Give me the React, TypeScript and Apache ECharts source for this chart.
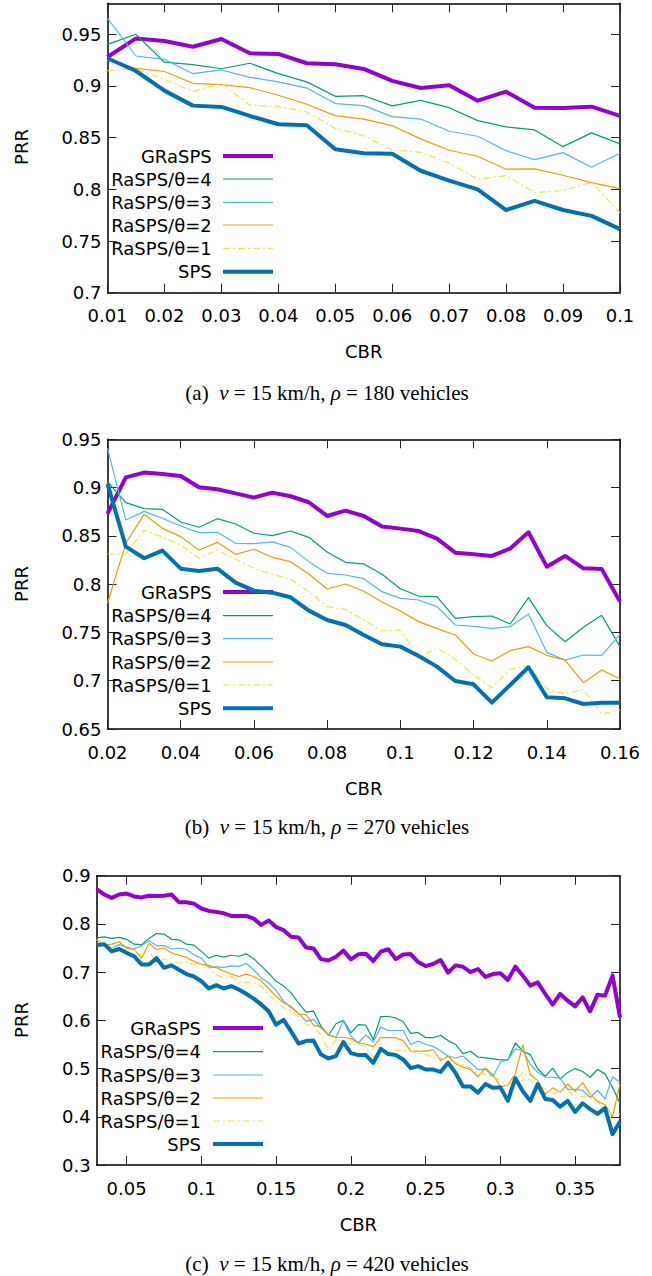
import React, { useEffect, useRef } from "react";
import * as echarts from "echarts";

// ---------- X values (CBR) ----------
const cbrA = [0.01, 0.015, 0.02, 0.025, 0.03, 0.035, 0.04, 0.045, 0.05, 0.055, 0.06, 0.065, 0.07, 0.075, 0.08, 0.085, 0.09, 0.095, 0.1];
const cbrB = [0.02, 0.025, 0.03, 0.035, 0.04, 0.045, 0.05, 0.055, 0.06, 0.065, 0.07, 0.075, 0.08, 0.085, 0.09, 0.095, 0.1, 0.105, 0.11, 0.115, 0.12, 0.125, 0.13, 0.135, 0.14, 0.145, 0.15, 0.155, 0.16];
const cbrC = [0.03, 0.035, 0.04, 0.045, 0.05, 0.055, 0.06, 0.065, 0.07, 0.075, 0.08, 0.085, 0.09, 0.095, 0.1, 0.105, 0.11, 0.115, 0.12, 0.125, 0.13, 0.135, 0.14, 0.145, 0.15, 0.155, 0.16, 0.165, 0.17, 0.175, 0.18, 0.185, 0.19, 0.195, 0.2, 0.205, 0.21, 0.215, 0.22, 0.225, 0.23, 0.235, 0.24, 0.245, 0.25, 0.255, 0.26, 0.265, 0.27, 0.275, 0.28, 0.285, 0.29, 0.295, 0.3, 0.305, 0.31, 0.315, 0.32, 0.325, 0.33, 0.335, 0.34, 0.345, 0.35, 0.355, 0.36, 0.365, 0.37, 0.375, 0.38];

// ---------- Tick values ----------
const xTicksA = [0.01, 0.02, 0.03, 0.04, 0.05, 0.06, 0.07, 0.08, 0.09, 0.1];
const yTicksA = [0.7, 0.75, 0.8, 0.85, 0.9, 0.95];
const xTicksB = [0.02, 0.04, 0.06, 0.08, 0.1, 0.12, 0.14, 0.16];
const yTicksB = [0.65, 0.7, 0.75, 0.8, 0.85, 0.9, 0.95];
const xTicksC = [0.05, 0.1, 0.15, 0.2, 0.25, 0.3, 0.35];
const yTicksC = [0.3, 0.4, 0.5, 0.6, 0.7, 0.8, 0.9];

// ---------- Series names ----------
const seriesNames = ["GRaSPS", "RaSPS/θ=4", "RaSPS/θ=3", "RaSPS/θ=2", "RaSPS/θ=1", "SPS"];

// ---------- (a) rho = 180 ----------
const graspsA = [0.928, 0.946, 0.9435, 0.938, 0.9455, 0.9316, 0.931, 0.922, 0.921, 0.9165, 0.905, 0.898, 0.9007, 0.8858, 0.8945, 0.879, 0.8787, 0.88, 0.871];
const t4A = [0.9403, 0.95, 0.923, 0.9206, 0.9167, 0.922, 0.912, 0.904, 0.89, 0.8906, 0.8807, 0.886, 0.879, 0.8665, 0.8604, 0.8575, 0.8413, 0.8546, 0.844];
const t3A = [0.9655, 0.929, 0.9258, 0.9119, 0.9155, 0.9084, 0.904, 0.898, 0.883, 0.881, 0.8703, 0.868, 0.8562, 0.8514, 0.8374, 0.8288, 0.8355, 0.8214, 0.835];
const t2A = [0.925, 0.917, 0.914, 0.9026, 0.9013, 0.8984, 0.891, 0.8823, 0.8713, 0.868, 0.8616, 0.8488, 0.8378, 0.832, 0.8195, 0.8198, 0.8136, 0.8065, 0.8007];
const t1A = [0.9148, 0.9165, 0.9065, 0.8945, 0.9026, 0.8816, 0.88, 0.8749, 0.859, 0.852, 0.838, 0.8359, 0.8253, 0.8098, 0.8133, 0.7968, 0.7988, 0.8068, 0.7772];
const spsA = [0.9268, 0.9145, 0.8955, 0.881, 0.8797, 0.871, 0.863, 0.862, 0.8388, 0.835, 0.8345, 0.818, 0.8085, 0.8, 0.78, 0.7888, 0.78, 0.7743, 0.7615];

// ---------- (b) rho = 270 ----------
const graspsB = [0.873, 0.9106, 0.9155, 0.914, 0.912, 0.9003, 0.8982, 0.894, 0.8896, 0.8948, 0.891, 0.8848, 0.8706, 0.8761, 0.8706, 0.8596, 0.8575, 0.855, 0.8471, 0.8326, 0.8309, 0.8292, 0.8368, 0.8537, 0.8181, 0.8292, 0.8164, 0.8157, 0.7819];
const t4B = [0.9062, 0.8844, 0.8782, 0.8775, 0.8644, 0.8589, 0.8678, 0.8623, 0.8527, 0.8502, 0.855, 0.8485, 0.8333, 0.8226, 0.8209, 0.8102, 0.7953, 0.7877, 0.787, 0.7646, 0.7663, 0.767, 0.7587, 0.786, 0.757, 0.7404, 0.7553, 0.7677, 0.7353];
const t3B = [0.9407, 0.8665, 0.8754, 0.8682, 0.8602, 0.8533, 0.8537, 0.8423, 0.8419, 0.8437, 0.8381, 0.8233, 0.8112, 0.8095, 0.8057, 0.7922, 0.7853, 0.7836, 0.7767, 0.7577, 0.7563, 0.7543, 0.756, 0.7691, 0.7294, 0.7214, 0.7266, 0.7263, 0.748];
const t2B = [0.7802, 0.8423, 0.8723, 0.8578, 0.8492, 0.8354, 0.8433, 0.8309, 0.8361, 0.8278, 0.8233, 0.8105, 0.795, 0.8002, 0.7926, 0.7815, 0.7722, 0.7612, 0.7539, 0.7474, 0.7277, 0.7204, 0.7311, 0.7353, 0.7263, 0.7214, 0.698, 0.7111, 0.7018];
const t1B = [0.8312, 0.8309, 0.8561, 0.8485, 0.8406, 0.8268, 0.8354, 0.8257, 0.8164, 0.8102, 0.805, 0.7922, 0.7767, 0.7739, 0.7629, 0.7515, 0.7525, 0.7249, 0.7335, 0.7222, 0.7059, 0.6928, 0.7118, 0.7156, 0.6921, 0.6862, 0.6911, 0.6655, 0.6697];
const spsB = [0.9038, 0.8388, 0.8268, 0.8347, 0.816, 0.8136, 0.816, 0.8016, 0.7933, 0.7912, 0.7864, 0.7726, 0.7629, 0.7577, 0.7474, 0.7377, 0.7353, 0.7256, 0.7146, 0.6997, 0.6963, 0.6773, 0.6956, 0.7139, 0.6828, 0.6818, 0.6759, 0.6773, 0.6773];

// ---------- (c) rho = 420 ----------
const graspsC = [0.872, 0.861, 0.854, 0.861, 0.863, 0.857, 0.855, 0.8585, 0.858, 0.8585, 0.861, 0.845, 0.845, 0.842, 0.832, 0.827, 0.825, 0.822, 0.8165, 0.8165, 0.8165, 0.811, 0.798, 0.807, 0.7935, 0.787, 0.7735, 0.772, 0.751, 0.749, 0.727, 0.724, 0.732, 0.7445, 0.7265, 0.737, 0.738, 0.723, 0.7425, 0.7475, 0.727, 0.7365, 0.7375, 0.721, 0.7125, 0.7168, 0.725, 0.699, 0.714, 0.711, 0.7, 0.7065, 0.69, 0.696, 0.6976, 0.6837, 0.7114, 0.6927, 0.672, 0.6789, 0.6547, 0.6325, 0.6547, 0.6408, 0.629, 0.6478, 0.6187, 0.6533, 0.6512, 0.6927, 0.6062];
const t4C = [0.771, 0.773, 0.77, 0.772, 0.768, 0.758, 0.757, 0.77, 0.78, 0.779, 0.768, 0.767, 0.758, 0.756, 0.743, 0.729, 0.735, 0.731, 0.735, 0.733, 0.738, 0.728, 0.713, 0.698, 0.681, 0.671, 0.657, 0.636, 0.617, 0.619, 0.588, 0.569, 0.593, 0.6, 0.574, 0.591, 0.59, 0.56, 0.608, 0.608, 0.605, 0.597, 0.573, 0.575, 0.564, 0.564, 0.569, 0.558, 0.55, 0.531, 0.536, 0.524, 0.522, 0.52, 0.518, 0.518, 0.553, 0.536, 0.529, 0.499, 0.484, 0.501, 0.478, 0.492, 0.5, 0.494, 0.482, 0.498, 0.489, 0.461, 0.428];
const t3C = [0.76, 0.758, 0.75, 0.757, 0.752, 0.748, 0.755, 0.765, 0.755, 0.755, 0.748, 0.75, 0.747, 0.736, 0.729, 0.71, 0.711, 0.71, 0.713, 0.712, 0.718, 0.705, 0.688, 0.678, 0.662, 0.64, 0.626, 0.615, 0.598, 0.602, 0.584, 0.57, 0.564, 0.599, 0.567, 0.553, 0.57, 0.555, 0.586, 0.579, 0.579, 0.579, 0.55, 0.557, 0.55, 0.546, 0.537, 0.526, 0.522, 0.526, 0.512, 0.498, 0.499, 0.483, 0.513, 0.518, 0.541, 0.537, 0.509, 0.492, 0.482, 0.482, 0.48, 0.457, 0.457, 0.455, 0.44, 0.455, 0.437, 0.483, 0.471];
const t2C = [0.767, 0.756, 0.758, 0.763, 0.75, 0.747, 0.729, 0.76, 0.747, 0.75, 0.74, 0.735, 0.731, 0.722, 0.716, 0.714, 0.709, 0.702, 0.696, 0.691, 0.696, 0.691, 0.682, 0.666, 0.65, 0.636, 0.629, 0.613, 0.612, 0.59, 0.586, 0.57, 0.565, 0.565, 0.562, 0.553, 0.551, 0.545, 0.564, 0.564, 0.564, 0.558, 0.536, 0.536, 0.536, 0.539, 0.517, 0.526, 0.51, 0.503, 0.498, 0.483, 0.501, 0.488, 0.462, 0.466, 0.489, 0.549, 0.487, 0.475, 0.447, 0.46, 0.451, 0.468, 0.453, 0.471, 0.447, 0.432, 0.425, 0.4, 0.468];
const t1C = [0.767, 0.758, 0.75, 0.75, 0.747, 0.745, 0.735, 0.743, 0.722, 0.728, 0.719, 0.719, 0.721, 0.716, 0.717, 0.709, 0.695, 0.688, 0.691, 0.681, 0.678, 0.678, 0.671, 0.653, 0.64, 0.626, 0.62, 0.608, 0.591, 0.588, 0.57, 0.539, 0.56, 0.557, 0.55, 0.55, 0.546, 0.523, 0.539, 0.537, 0.537, 0.537, 0.536, 0.532, 0.529, 0.522, 0.523, 0.517, 0.513, 0.508, 0.501, 0.489, 0.488, 0.484, 0.475, 0.464, 0.475, 0.492, 0.475, 0.468, 0.457, 0.447, 0.454, 0.454, 0.44, 0.442, 0.44, 0.43, 0.419, 0.402, 0.406];
const spsC = [0.756, 0.758, 0.743, 0.748, 0.74, 0.733, 0.716, 0.716, 0.729, 0.709, 0.714, 0.705, 0.696, 0.691, 0.681, 0.666, 0.673, 0.666, 0.671, 0.664, 0.655, 0.645, 0.633, 0.619, 0.591, 0.601, 0.577, 0.552, 0.557, 0.558, 0.529, 0.521, 0.526, 0.555, 0.532, 0.528, 0.528, 0.512, 0.541, 0.53, 0.528, 0.519, 0.501, 0.505, 0.498, 0.498, 0.493, 0.512, 0.491, 0.463, 0.463, 0.45, 0.468, 0.46, 0.461, 0.433, 0.48, 0.453, 0.433, 0.468, 0.437, 0.435, 0.421, 0.433, 0.41, 0.428, 0.416, 0.406, 0.418, 0.364, 0.39];

// ---------- Styles ----------
const COLORS = ["#9400d3", "#009e73", "#56b4e9", "#e69f00", "#f0e442", "#0072b2"];
const WIDTHS = [4, 1.2, 1.2, 1.2, 1.2, 4];
const DASHES: any[] = ["solid", "solid", "solid", "solid", [7, 3, 2, 3], "solid"];
const FONT = "DejaVu Sans";
const SERIF = "Liberation Serif";
const FS = 18;
const CAP_FS = 21;

type Panel = {
  left: number; top: number; width: number; height: number;
  xmin: number; xmax: number; ymin: number; ymax: number;
  xticks: number[]; yticks: number[];
  x: number[]; ys: number[][];
  legendRight: number; legendLine: [number, number]; legendYs: number[];
  cbrY: number; captionY: number; prrY: number; caption: string;
};

const panels: Panel[] = [
  {
    left: 107.5, top: 3.3, width: 512.5, height: 289.4,
    xmin: 0.01, xmax: 0.1, ymin: 0.7, ymax: 0.98, xticks: xTicksA, yticks: yTicksA,
    x: cbrA, ys: [graspsA, t4A, t3A, t2A, t1A, spsA],
    legendRight: 211.7, legendLine: [223, 273], legendYs: [156, 179, 202.3, 225, 248.3, 271.7],
    cbrY: 351.7, captionY: 392.7, prrY: 147, caption: "a",
  },
  {
    left: 107.5, top: 439.3, width: 512.5, height: 289.7,
    xmin: 0.02, xmax: 0.16, ymin: 0.65, ymax: 0.95, xticks: xTicksB, yticks: yTicksB,
    x: cbrB, ys: [graspsB, t4B, t3B, t2B, t1B, spsB],
    legendRight: 211.7, legendLine: [223, 273], legendYs: [592, 615.7, 638.7, 662, 685, 708.3],
    cbrY: 788, captionY: 827.3, prrY: 584, caption: "b",
  },
  {
    left: 96.7, top: 875.7, width: 523.3, height: 289.3,
    xmin: 0.03, xmax: 0.38, ymin: 0.3, ymax: 0.9, xticks: xTicksC, yticks: yTicksC,
    x: cbrC, ys: [graspsC, t4C, t3C, t2C, t1C, spsC],
    legendRight: 201, legendLine: [213, 263], legendYs: [1028, 1051.7, 1075, 1098, 1121, 1144],
    cbrY: 1224, captionY: 1264.3, prrY: 1020, caption: "c",
  },
];
const rhoValues = ["180", "270", "420"];

function buildOption() {
  const grid: any[] = [];
  const xAxis: any[] = [];
  const yAxis: any[] = [];
  const series: any[] = [];
  const graphic: any[] = [];

  const axisLine = { show: true, onZero: false, lineStyle: { color: "#000", width: 1.5 } };
  const tickStyle = { color: "#222", width: 1 };
  const labelStyle = { color: "#000", fontFamily: FONT, fontSize: FS };

  panels.forEach((p, gi) => {
    grid.push({ left: p.left, top: p.top, width: p.width, height: p.height, containLabel: false });
    xAxis.push({
      type: "value", gridIndex: gi, position: "bottom", min: p.xmin, max: p.xmax,
      axisLine, splitLine: { show: false },
      axisTick: { show: true, inside: true, length: 9, customValues: p.xticks, lineStyle: tickStyle },
      axisLabel: { show: true, customValues: p.xticks, margin: 14, ...labelStyle, formatter: (v: number) => String(v) },
    });
    xAxis.push({
      type: "value", gridIndex: gi, position: "top", min: p.xmin, max: p.xmax,
      axisLine, splitLine: { show: false },
      axisTick: { show: true, inside: true, length: 9, customValues: p.xticks, lineStyle: tickStyle },
      axisLabel: { show: false },
    });
    yAxis.push({
      type: "value", gridIndex: gi, position: "left", min: p.ymin, max: p.ymax,
      axisLine, splitLine: { show: false },
      axisTick: { show: true, inside: true, length: 9, customValues: p.yticks, lineStyle: tickStyle },
      axisLabel: { show: true, customValues: p.yticks, margin: 6, ...labelStyle, formatter: (v: number) => String(v) },
    });
    yAxis.push({
      type: "value", gridIndex: gi, position: "right", min: p.ymin, max: p.ymax,
      axisLine, splitLine: { show: false },
      axisTick: { show: true, inside: true, length: 9, customValues: p.yticks, lineStyle: tickStyle },
      axisLabel: { show: false },
    });

    p.ys.forEach((vals, si) => {
      series.push({
        type: "line", name: seriesNames[si] + "_" + gi,
        xAxisIndex: gi * 2, yAxisIndex: gi * 2,
        data: p.x.map((xv, k) => [xv, vals[k]]),
        showSymbol: false, symbol: "none",
        lineStyle: { color: COLORS[si], width: WIDTHS[si], type: DASHES[si], join: "round" },
        z: 2 + si * 0.01,
      });
    });

    seriesNames.forEach((nm, si) => {
      const y = p.legendYs[si];
      graphic.push({
        type: "text", x: p.legendRight, y, z: 1,
        style: { text: nm, fill: "#000", fontFamily: FONT, fontSize: FS, align: "right", verticalAlign: "middle" },
      });
      graphic.push({
        type: "line", z: 1,
        shape: { x1: p.legendLine[0], y1: y, x2: p.legendLine[1], y2: y },
        style: { stroke: COLORS[si], lineWidth: WIDTHS[si], lineDash: Array.isArray(DASHES[si]) ? DASHES[si] : null },
      });
    });

    graphic.push({
      type: "text", x: 21, y: p.prrY, rotation: Math.PI / 2,
      style: { text: "PRR", fill: "#000", fontFamily: FONT, fontSize: FS, align: "center", verticalAlign: "middle" },
    });
    graphic.push({
      type: "text", x: p.left + p.width / 2, y: p.cbrY,
      style: { text: "CBR", fill: "#000", fontFamily: FONT, fontSize: FS, align: "center", verticalAlign: "middle" },
    });
    graphic.push({
      type: "text", x: 327, y: p.captionY,
      style: {
        text: `(${p.caption})  {i|v} = 15 km/h, {i|ρ} = ${rhoValues[gi]} vehicles`,
        fill: "#000", fontFamily: SERIF, fontSize: CAP_FS, align: "center", verticalAlign: "middle",
        rich: { i: { fontFamily: SERIF, fontSize: CAP_FS, fontStyle: "italic", fill: "#000" } },
      },
    });
  });

  return {
    animation: false,
    backgroundColor: "#fff",
    grid, xAxis, yAxis, series, graphic,
  };
}

export default function App() {
  const ref = useRef<HTMLDivElement>(null);
  useEffect(() => {
    document.body.style.margin = "0";
    if (!ref.current) return;
    const chart = echarts.init(ref.current, undefined, { renderer: "svg" });
    chart.setOption(buildOption() as any);
    return () => chart.dispose();
  }, []);
  return <div ref={ref} style={{ width: 652, height: 1276 }} />;
}
